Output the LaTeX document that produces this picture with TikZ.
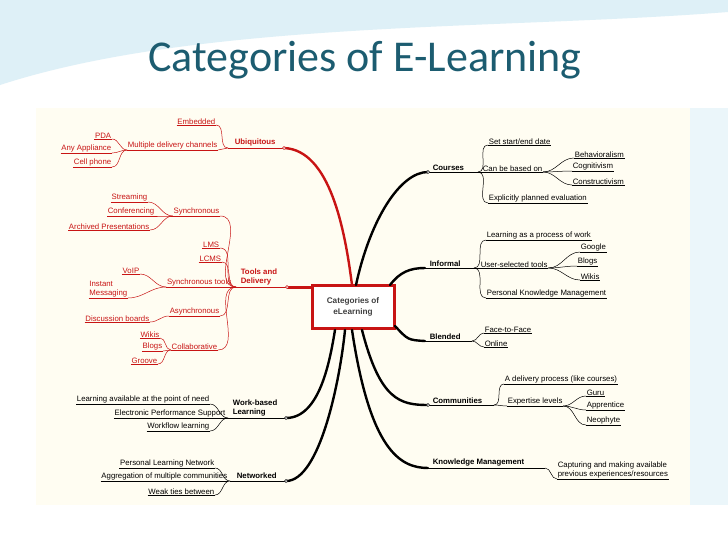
\documentclass[tikz,border=0pt]{standalone}
\usepackage{fontspec}
\setmainfont{Liberation Sans}
\newfontfamily\titlefont{Carlito}
\definecolor{mred}{RGB}{200,20,20}
\definecolor{ttl}{RGB}{28,92,112}
\definecolor{cream}{RGB}{255,253,242}
\definecolor{wave}{RGB}{222,240,247}
\tikzset{
 lf/.style={inner sep=0.6pt,font=\fontsize{7.8}{9}\selectfont},
 mb/.style={inner sep=0.6pt,font=\fontsize{7.8}{9.4}\selectfont\bfseries,anchor=south west,align=left},
 cn/.style={line width=0.5pt},
 br/.style={line width=2.4pt,line cap=round},
}
\newcommand\lfL[3]{\node[lf,anchor=south east,align=left](#1) at (#2){#3};\draw[cn] (#1.south west)--(#1.south east);}
\newcommand\lfR[3]{\node[lf,anchor=south west,align=left](#1) at (#2){#3};\draw[cn] (#1.south west)--(#1.south east);}
\begin{document}
\begin{tikzpicture}[x=1pt,y=-1pt]
\useasboundingbox (0,0) rectangle (728,546);
\fill[white] (0,0) rectangle (728,546);
\fill[wave] (0,0) -- (728,0) -- (728,12) .. controls (500,30) and (200,20) .. (0,85) -- cycle;
\fill[wave!60] (690,108) rectangle (728,505);
\node[font=\titlefont\fontsize{44}{48}\selectfont,text=ttl] (title) at (365,60) {Categories of E-Learning};
\fill[cream] (36,108) rectangle (690,505);
% central
\node[draw=mred,line width=3pt,fill=white,minimum width=82pt,minimum height=43pt,align=center,font=\fontsize{8.2}{10.5}\selectfont\bfseries,text=black!75] (c) at (353,307) {Categories of\\eLearning};
% ---------- red side
\begin{scope}[color=mred]
\coordinate (jU) at (228,148); \coordinate (eU) at (284,148);
\node[mb] (ubi) at (234,147) {Ubiquitous}; \draw[cn] (jU)--(eU);
\lfL{emb}{216,125}{Embedded}
\lfL{mdc}{218,150}{Multiple delivery channels}
\lfL{pda}{112,139}{PDA}
\lfL{any}{112,153}{Any Appliance}
\lfL{cell}{112,167}{Cell phone}
\foreach \n in {emb,mdc} \draw[cn] (\n.south east) to[out=0,in=180] (jU);
\foreach \n in {pda,any,cell} \draw[cn] (\n.south east) to[out=0,in=180] (mdc.south west);
\coordinate (jT) at (236,287); \coordinate (eT) at (287,287);
\node[mb] (tools) at (240,286) {Tools and\\Delivery}; \draw[cn] (jT)--(eT);
\lfL{syn}{220,216}{Synchronous}
\lfL{str}{148,202}{Streaming}
\lfL{conf}{155,216}{Conferencing}
\lfL{arch}{150,230}{Archived Presentations}
\foreach \n in {str,conf,arch} \draw[cn] (\n.south east) to[out=0,in=180] (syn.south west);
\lfL{lms}{220,248}{LMS}
\lfL{lcms}{222,262}{LCMS}
\lfL{st}{232,287}{Synchronous tools}
\draw[cn] (st.south east)--(jT);
\lfL{voip}{140,274}{VoIP}
\lfL{im}{128,298}{Instant\\Messaging}
\foreach \n in {voip,im} \draw[cn] (\n.south east) to[out=0,in=180] (st.south west);
\lfL{asyn}{220,316}{Asynchronous}
\lfL{disc}{150,322}{Discussion boards}
\draw[cn] (disc.south east) to[out=0,in=180] (asyn.south west);
\lfL{coll}{218,350}{Collaborative}
\lfL{wik}{160,338}{Wikis}
\lfL{blg}{163,351}{Blogs}
\lfL{grv}{158,364}{Groove}
\foreach \n in {wik,blg,grv} \draw[cn] (\n.south east) to[out=0,in=180] (coll.south west);
\foreach \n in {syn,lms,lcms,asyn,coll} \draw[cn] (\n.south east) to[out=0,in=180] (jT);
\draw[br] (eU) .. controls (330,150) and (345,230) .. (352,285);
\draw[line width=3pt] (eT) -- (311,287);
\draw[cn,fill=white] (eU) circle (1.6) (eT) circle (1.6);
\end{scope}
% ---------- black left
\coordinate (jW) at (228,418); \coordinate (eW) at (286,418);
\node[mb] (wb) at (232,417) {Work-based\\Learning}; \draw[cn] (jW)--(eW);
\lfL{lap}{210,404}{Learning available at the point of need}
\lfL{eps}{226,418}{Electronic Performance Support}
\lfL{wfl}{210,431}{Workflow learning}
\draw[cn] (eps.south east)--(jW);
\foreach \n in {lap,wfl} \draw[cn] (\n.south east) to[out=0,in=180] (jW);
\coordinate (jN) at (230,481); \coordinate (eN) at (286,481);
\node[mb] (net) at (236,479) {Networked}; \draw[cn] (jN)--(eN);
\lfL{pln}{215,468}{Personal Learning Network}
\lfL{agg}{228,481}{Aggregation of multiple communities}
\lfL{wtb}{215,495}{Weak ties between}
\foreach \n in {pln,wtb} \draw[cn] (\n.south east) to[out=0,in=180] (jN);
\draw[br] (eW) .. controls (320,418) and (330,360) .. (335,330);
\draw[br] (eN) .. controls (320,481) and (340,380) .. (345,330);
% ---------- right
\coordinate (jC) at (428,172); \coordinate (eC) at (478,172);
\node[mb] (crs) at (432,171) {Courses}; \draw[cn] (jC)--(eC);
\lfR{sse}{488,145}{Set start/end date}
\lfR{cbb}{482,172}{Can be based on}
\draw[cn] (eC)--(cbb.south west);
\lfR{epe}{488,203}{Explicitly planned evaluation}
\foreach \n in {sse,epe} \draw[cn] (eC) to[out=0,in=180] (\n.south west);
\lfR{beh}{574,158}{Behavioralism}
\lfR{cog}{572,171}{Cognitivism}
\lfR{con}{572,185}{Constructivism}
\foreach \n in {beh,cog,con} \draw[cn] (cbb.south east) to[out=0,in=180] (\n.south west);
\coordinate (jI) at (425,268); \coordinate (eI) at (474,268);
\node[mb] (inf) at (429,267) {Informal}; \draw[cn] (jI)--(eI);
\lfR{lpw}{486,240}{Learning as a process of work}
\lfR{ust}{480,268}{User-selected tools}
\draw[cn] (eI)--(ust.south west);
\lfR{pkm}{486,298}{Personal Knowledge Management}
\foreach \n in {lpw,pkm} \draw[cn] (eI) to[out=0,in=180] (\n.south west);
\lfR{goo}{580,252}{Google}
\lfR{blr}{577,266}{Blogs}
\lfR{wkr}{580,280}{Wikis}
\foreach \n in {goo,blr,wkr} \draw[cn] (ust.south east) to[out=0,in=180] (\n.south west);
\coordinate (jB) at (425,341); \coordinate (eB) at (472,341);
\node[mb] (bl) at (429,340) {Blended}; \draw[cn] (jB)--(eB);
\lfR{f2f}{484,333}{Face-to-Face}
\lfR{onl}{484,347}{Online}
\foreach \n in {f2f,onl} \draw[cn] (eB) to[out=0,in=180] (\n.south west);
\coordinate (jCo) at (428,405); \coordinate (eCo) at (494,405);
\node[mb] (com) at (432,404) {Communities}; \draw[cn] (jCo)--(eCo);
\lfR{dp}{504,384}{A delivery process (like courses)}
\lfR{exl}{507,406}{Expertise levels}
\foreach \n in {dp,exl} \draw[cn] (eCo) to[out=0,in=180] (\n.south west);
\lfR{guru}{586,396}{Guru}
\lfR{app}{586,410}{Apprentice}
\lfR{neo}{586,425}{Neophyte}
\foreach \n in {guru,app,neo} \draw[cn] (exl.south east) to[out=0,in=180] (\n.south west);
\coordinate (jK) at (428,468); \coordinate (eK) at (545,468);
\node[mb] (km) at (432,467) {Knowledge Management}; \draw[cn] (jK)--(eK);
\lfR{cap}{557,479}{Capturing and making available\\previous experiences/resources}
\draw[cn] (eK) to[out=0,in=180] (cap.south west);
\draw[br] (356,285) .. controls (370,220) and (400,172) .. (jC);
\draw[br] (390,285) .. controls (400,272) and (410,268) .. (jI);
\draw[br] (395,326) .. controls (408,340) .. (jB);
\draw[br] (362,330) .. controls (380,400) and (400,405) .. (jCo);
\draw[br] (352,330) .. controls (370,450) and (400,468) .. (jK);
\draw[cn,fill=white] (jC) circle (1.6) (jCo) circle (1.6) (eW) circle (1.6) (eN) circle (1.6);
\end{tikzpicture}
\end{document}
